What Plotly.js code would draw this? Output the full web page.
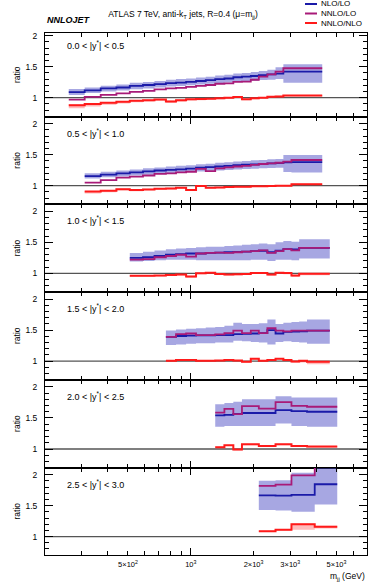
<!DOCTYPE html>
<html>
<head>
<meta charset="utf-8">
<script src="https://cdn.plot.ly/plotly-3.0.1.min.js"></script>
<style>
  body { margin: 0; background: #fff; }
  #chart { width: 374px; height: 585px; }
</style>
</head>
<body>
<div id="chart"></div>
<script>
// bin edges (GeV) and ratios per |y*| slice
const edges1 = [260, 310, 370, 440, 510, 590, 670, 760, 850, 950, 1060, 1180, 1310, 1450, 1600, 1760, 1940, 2120, 2330, 2550, 2780, 4270];
const nlo1 = [1.09, 1.12, 1.15, 1.165, 1.19, 1.205, 1.22, 1.235, 1.245, 1.255, 1.27, 1.285, 1.30, 1.31, 1.33, 1.34, 1.35, 1.365, 1.375, 1.39, 1.42];
const nnlo1 = [0.97, 1.015, 1.045, 1.07, 1.095, 1.11, 1.135, 1.15, 1.16, 1.175, 1.19, 1.205, 1.225, 1.23, 1.255, 1.26, 1.29, 1.34, 1.375, 1.42, 1.475];
const nloLo1 = [1.045, 1.075, 1.10, 1.115, 1.135, 1.15, 1.165, 1.18, 1.19, 1.20, 1.215, 1.225, 1.235, 1.245, 1.26, 1.265, 1.275, 1.285, 1.29, 1.30, 1.24];
const nloHi1 = [1.14, 1.165, 1.195, 1.215, 1.24, 1.255, 1.27, 1.29, 1.30, 1.31, 1.325, 1.34, 1.36, 1.37, 1.39, 1.40, 1.415, 1.43, 1.45, 1.49, 1.54];
const red1 = [0.88, 0.90, 0.92, 0.935, 0.95, 0.96, 0.97, 0.94, 0.96, 0.975, 0.98, 0.985, 0.99, 1.0, 1.01, 0.975, 0.99, 1.0, 1.015, 1.02, 1.035];
const redLo1 = [0.83, 0.86, 0.885, 0.905, 0.925, 0.94, 0.95, 0.92, 0.94, 0.955, 0.96, 0.97, 0.975, 0.985, 0.995, 0.96, 0.975, 0.99, 1.0, 1.005, 1.02];
const redHi1 = [0.895, 0.91, 0.93, 0.945, 0.96, 0.97, 0.98, 0.955, 0.97, 0.985, 0.99, 0.995, 1.0, 1.01, 1.02, 0.985, 1.0, 1.01, 1.025, 1.03, 1.045];

const edges2 = [310, 370, 440, 510, 590, 670, 760, 850, 950, 1060, 1180, 1310, 1450, 1600, 1760, 1940, 2120, 2330, 2550, 2780, 3040, 4270];
const nlo2 = [1.155, 1.18, 1.20, 1.215, 1.23, 1.245, 1.255, 1.265, 1.275, 1.29, 1.30, 1.31, 1.32, 1.33, 1.34, 1.345, 1.35, 1.36, 1.365, 1.375, 1.38];
const nnlo2 = [1.05, 1.09, 1.13, 1.145, 1.165, 1.19, 1.20, 1.215, 1.225, 1.27, 1.235, 1.28, 1.295, 1.31, 1.32, 1.335, 1.35, 1.36, 1.37, 1.39, 1.415];
const nloLo2 = [1.115, 1.135, 1.15, 1.165, 1.175, 1.19, 1.20, 1.21, 1.22, 1.23, 1.24, 1.245, 1.255, 1.26, 1.27, 1.275, 1.28, 1.285, 1.29, 1.22, 1.215];
const nloHi2 = [1.20, 1.225, 1.245, 1.26, 1.28, 1.295, 1.31, 1.32, 1.33, 1.345, 1.355, 1.37, 1.38, 1.39, 1.40, 1.41, 1.415, 1.425, 1.43, 1.495, 1.495];
const red2 = [0.905, 0.92, 0.945, 0.93, 0.94, 0.95, 0.957, 0.967, 0.93, 0.995, 0.967, 0.972, 0.978, 0.984, 0.984, 0.99, 0.99, 0.995, 1.0, 1.0, 1.025];
const redLo2 = [0.875, 0.895, 0.925, 0.91, 0.925, 0.935, 0.94, 0.95, 0.915, 0.98, 0.955, 0.96, 0.965, 0.97, 0.972, 0.978, 0.98, 0.985, 0.99, 0.99, 1.015];
const redHi2 = [0.915, 0.93, 0.955, 0.94, 0.95, 0.96, 0.967, 0.977, 0.94, 1.005, 0.977, 0.982, 0.988, 0.994, 0.994, 1.0, 1.0, 1.005, 1.01, 1.01, 1.035];

const edges3 = [510, 590, 670, 760, 850, 950, 1060, 1180, 1310, 1450, 1600, 1760, 1940, 2120, 2330, 2550, 2780, 3040, 3310, 4640];
const nlo3 = [1.25, 1.26, 1.28, 1.30, 1.31, 1.32, 1.32, 1.33, 1.335, 1.34, 1.345, 1.35, 1.36, 1.365, 1.34, 1.365, 1.39, 1.385, 1.41];
const nnlo3 = [1.22, 1.23, 1.26, 1.28, 1.30, 1.27, 1.32, 1.33, 1.335, 1.33, 1.34, 1.35, 1.36, 1.37, 1.33, 1.36, 1.39, 1.37, 1.41];
const nloLo3 = [1.19, 1.20, 1.21, 1.22, 1.22, 1.22, 1.21, 1.21, 1.21, 1.21, 1.21, 1.21, 1.22, 1.22, 1.20, 1.22, 1.22, 1.21, 1.24];
const nloHi3 = [1.33, 1.35, 1.37, 1.39, 1.40, 1.41, 1.42, 1.43, 1.43, 1.44, 1.45, 1.46, 1.47, 1.48, 1.47, 1.50, 1.52, 1.51, 1.55];
const red3 = [0.96, 0.96, 0.965, 0.975, 0.98, 0.95, 1.0, 1.01, 0.99, 0.98, 0.985, 0.99, 1.005, 1.005, 0.98, 1.01, 1.005, 0.965, 0.995];
const redLo3 = [0.945, 0.945, 0.95, 0.96, 0.965, 0.93, 0.985, 0.995, 0.975, 0.965, 0.97, 0.975, 0.99, 0.99, 0.96, 0.99, 0.985, 0.94, 0.97];
const redHi3 = [0.97, 0.97, 0.975, 0.985, 0.99, 0.96, 1.01, 1.02, 1.0, 0.99, 0.995, 1.0, 1.015, 1.015, 0.99, 1.02, 1.015, 0.975, 1.005];

const edges4 = [760, 850, 950, 1060, 1180, 1310, 1450, 1600, 1760, 1940, 2120, 2330, 2550, 2780, 3040, 3310, 3610, 4640];
const nlo4 = [1.39, 1.405, 1.41, 1.415, 1.415, 1.42, 1.42, 1.435, 1.44, 1.445, 1.45, 1.50, 1.445, 1.47, 1.475, 1.48, 1.49];
const nnlo4 = [1.39, 1.435, 1.445, 1.42, 1.42, 1.43, 1.45, 1.49, 1.45, 1.49, 1.45, 1.53, 1.49, 1.48, 1.49, 1.49, 1.49];
const nloLo4 = [1.26, 1.27, 1.28, 1.29, 1.29, 1.30, 1.30, 1.33, 1.32, 1.31, 1.30, 1.27, 1.31, 1.32, 1.31, 1.30, 1.28];
const nloHi4 = [1.495, 1.51, 1.52, 1.53, 1.54, 1.55, 1.57, 1.62, 1.60, 1.60, 1.61, 1.67, 1.60, 1.62, 1.63, 1.64, 1.67];
const red4 = [1.005, 1.02, 1.02, 1.005, 1.005, 1.01, 1.02, 1.01, 0.99, 1.04, 1.005, 1.02, 1.04, 1.02, 0.995, 1.005, 0.99];
const redLo4 = [0.99, 1.005, 1.005, 0.99, 0.99, 0.995, 1.005, 0.995, 0.975, 1.025, 0.99, 1.005, 1.025, 1.0, 0.975, 0.98, 0.95];
const redHi4 = [1.015, 1.03, 1.03, 1.015, 1.015, 1.02, 1.03, 1.02, 1.0, 1.05, 1.015, 1.03, 1.05, 1.03, 1.005, 1.015, 1.0];

const edges5 = [1310, 1450, 1600, 1760, 2120, 2550, 3040, 3610, 5040];
const nlo5 = [1.54, 1.55, 1.565, 1.58, 1.58, 1.625, 1.61, 1.60];
const nnlo5 = [1.585, 1.645, 1.56, 1.69, 1.65, 1.755, 1.695, 1.68];
const nloLo5 = [1.36, 1.37, 1.37, 1.37, 1.37, 1.41, 1.37, 1.36];
const nloHi5 = [1.72, 1.74, 1.76, 1.80, 1.80, 1.85, 1.83, 1.83];
const red5 = [1.03, 1.06, 0.99, 1.075, 1.05, 1.075, 1.05, 1.04];
const redLo5 = [1.02, 1.05, 0.975, 1.06, 1.035, 1.06, 1.035, 1.02];
const redHi5 = [1.04, 1.07, 1.0, 1.085, 1.06, 1.085, 1.06, 1.05];

const edges6 = [2120, 2550, 3040, 3930, 5040];
const nlo6 = [1.665, 1.66, 1.675, 1.845];
const nnlo6 = [1.82, 1.84, 1.99, 2.2];
const nloLo6 = [1.43, 1.42, 1.40, 1.52];
const nloHi6 = [1.90, 1.91, 2.03, 2.2];
const red6 = [1.085, 1.11, 1.20, 1.16];
const redLo6 = [1.075, 1.095, 1.11, 1.13];
const redHi6 = [1.095, 1.12, 1.21, 1.175];

const sliceLabels = ['0.0 < |y<sup>*</sup>| < 0.5', '0.5 < |y<sup>*</sup>| < 1.0', '1.0 < |y<sup>*</sup>| < 1.5',
                     '1.5 < |y<sup>*</sup>| < 2.0', '2.0 < |y<sup>*</sup>| < 2.5', '2.5 < |y<sup>*</sup>| < 3.0'];
const seriesNames = ['NLO/LO', 'NNLO/LO', 'NNLO/NLO'];
const xTickVals = [500, 1000, 2000, 3000, 5000];
const xTickText = ['5×10<sup>2</sup>', '10<sup>3</sup>', '2×10<sup>3</sup>', '3×10<sup>3</sup>', '5×10<sup>3</sup>'];
const xMinorVals = [300, 400, 500, 600, 700, 800, 900, 2000, 3000, 4000, 5000, 6000];
const yTickVals = [1, 1.5, 2];
const yMinorVals = [0.7, 0.8, 0.9, 1.1, 1.2, 1.3, 1.4, 1.6, 1.7, 1.8, 1.9, 2.1];

const panels = [
    { edges: edges1, nlo: nlo1, nnlo: nnlo1, lo: nloLo1, hi: nloHi1, red: red1, rlo: redLo1, rhi: redHi1 },
    { edges: edges2, nlo: nlo2, nnlo: nnlo2, lo: nloLo2, hi: nloHi2, red: red2, rlo: redLo2, rhi: redHi2 },
    { edges: edges3, nlo: nlo3, nnlo: nnlo3, lo: nloLo3, hi: nloHi3, red: red3, rlo: redLo3, rhi: redHi3 },
    { edges: edges4, nlo: nlo4, nnlo: nnlo4, lo: nloLo4, hi: nloHi4, red: red4, rlo: redLo4, rhi: redHi4 },
    { edges: edges5, nlo: nlo5, nnlo: nnlo5, lo: nloLo5, hi: nloHi5, red: red5, rlo: redLo5, rhi: redHi5 },
    { edges: edges6, nlo: nlo6, nnlo: nnlo6, lo: nloLo6, hi: nloHi6, red: red6, rlo: redLo6, rhi: redHi6 }
];

const FONT = 'Liberation Sans, Arial, sans-serif';
const colBlue = '#1a1aa8', colMag = '#a81a78', colRed = '#ff1a1a';
const bandBlue = 'rgba(60,60,190,0.45)', bandRed = 'rgba(255,60,60,0.35)';

// pixel layout of the canvas (height 585, plot area 33..555)
const T = 33, B = 555;
const panelPx = [33, 116.5, 204.2, 291.8, 379.7, 467.5, 555];
const toPaperY = py => (B - py) / (B - T);
const toPaperX = px => (px - 45) / 322;
const xRange = [Math.log10(200), Math.log10(7000)];

// histogram helper: repeat last value so hv step closes the last bin
const step = v => v.concat([v[v.length - 1]]);

const traces = [];
const shapes = [];
const annotations = [];
const layout = {
    width: 374, height: 585,
    margin: { l: 45, r: 7, t: T, b: 585 - B },
    paper_bgcolor: '#fff', plot_bgcolor: '#fff',
    font: { family: FONT, color: '#000', size: 8.5 },
    showlegend: false,
    title: {
        text: 'ATLAS 7 TeV, anti-k<sub>T</sub> jets, R=0.4 (μ=m<sub>jj</sub>)',
        x: 183 / 374, xanchor: 'center', y: 1 - 14 / 585, yanchor: 'middle',
        font: { family: FONT, size: 8.5, color: '#000' }
    }
};

panels.forEach((p, i) => {
    const n = i + 1;
    const xa = 'x' + n, ya = 'y' + n;
    const base = { x: p.edges, xaxis: xa, yaxis: ya, mode: 'lines', hoverinfo: 'skip', showlegend: false };

    // NLO/LO uncertainty band
    traces.push(Object.assign({}, base, { y: step(p.lo), line: { shape: 'hv', width: 0 } }));
    traces.push(Object.assign({}, base, { y: step(p.hi), line: { shape: 'hv', width: 0 }, fill: 'tonexty', fillcolor: bandBlue }));
    // NNLO/NLO band
    traces.push(Object.assign({}, base, { y: step(p.rlo), line: { shape: 'hv', width: 0 } }));
    traces.push(Object.assign({}, base, { y: step(p.rhi), line: { shape: 'hv', width: 0 }, fill: 'tonexty', fillcolor: bandRed }));
    // central lines
    traces.push(Object.assign({}, base, { y: step(p.nlo), name: seriesNames[0], line: { shape: 'hv', width: 1.8, color: colBlue } }));
    traces.push(Object.assign({}, base, { y: step(p.nnlo), name: seriesNames[1], line: { shape: 'hv', width: 1.8, color: colMag } }));
    traces.push(Object.assign({}, base, { y: step(p.red), name: seriesNames[2], line: { shape: 'hv', width: 2, color: colRed } }));

    const last = n === 6;
    layout['xaxis' + n] = {
        domain: [0, 1], anchor: ya, type: 'log', range: xRange,
        showline: true, linecolor: '#000', linewidth: 1, mirror: 'ticks',
        ticks: 'inside', tickcolor: '#000', tickwidth: 1,
        tickmode: 'array',
        tickvals: last ? xTickVals : [1000],
        ticktext: last ? xTickText : ['10<sup>3</sup>'],
        ticklen: last ? 4 : 7,
        showticklabels: last,
        tickfont: { family: FONT, size: 7.5 },
        ticklabelstandoff: 2,
        minor: { tickmode: 'array', tickvals: xMinorVals, ticks: 'inside', ticklen: 4, tickcolor: '#000', showgrid: false },
        showgrid: false, zeroline: false
    };
    layout['yaxis' + n] = {
        domain: [toPaperY(panelPx[i + 1]), toPaperY(panelPx[i])],
        anchor: xa,
        range: i === 0 ? [0.697, 2.044] : [0.702, 2.116],
        showline: true, linecolor: '#000', linewidth: 1, mirror: 'ticks',
        ticks: 'inside', ticklen: 8, tickcolor: '#000', tickwidth: 1,
        tickmode: 'array', tickvals: yTickVals, ticktext: ['1', '1.5', '2'],
        minor: { tickmode: 'array', tickvals: yMinorVals, ticks: 'inside', ticklen: 4, tickcolor: '#000', showgrid: false },
        tickfont: { family: FONT, size: 8.5 },
        ticklabelstandoff: 5,
        title: { text: 'ratio', font: { family: FONT, size: 8.5 }, standoff: 3 },
        showgrid: false, zeroline: false
    };

    // reference line at ratio = 1
    shapes.push({
        type: 'line', xref: xa + ' domain', x0: 0, x1: 1, yref: ya, y0: 1, y1: 1,
        line: { color: '#555', width: 1.3 }, layer: 'below'
    });
    annotations.push({
        text: sliceLabels[i], xref: xa + ' domain', x: 0.062, xanchor: 'left',
        yref: ya, y: 1.855, yanchor: 'middle', showarrow: false,
        font: { family: FONT, size: 9 }
    });
});

// long tick at 10^3 on the bottom panel
layout.xaxis7 = {
    overlaying: 'x6', anchor: 'y6', type: 'log', range: xRange,
    showline: false, mirror: 'ticks', ticks: 'inside', ticklen: 7, tickcolor: '#000',
    tickmode: 'array', tickvals: [1000], showticklabels: false,
    showgrid: false, zeroline: false
};
traces.push({ x: [], y: [], xaxis: 'x7', yaxis: 'y6', mode: 'lines', showlegend: false, hoverinfo: 'skip' });

// hand-made legend, rows are tighter than plotly's own legend allows
const legendColors = [colBlue, colMag, colRed];
const legendRowsPx = [4, 13.5, 23];
seriesNames.forEach((name, k) => {
    const y = toPaperY(legendRowsPx[k]);
    shapes.push({
        type: 'line', xref: 'paper', yref: 'paper',
        x0: toPaperX(305), x1: toPaperX(317), y0: y, y1: y,
        line: { color: legendColors[k], width: 2 }
    });
    annotations.push({
        text: name, xref: 'paper', yref: 'paper', x: toPaperX(320), y: y,
        xanchor: 'left', yanchor: 'middle', showarrow: false, borderpad: 0,
        font: { family: FONT, size: 8 }
    });
});

annotations.push({
    text: '<b><i>NNLOJET</i></b>', xref: 'paper', yref: 'paper',
    x: 0, y: toPaperY(20), xanchor: 'left', yanchor: 'middle', showarrow: false,
    font: { family: FONT, size: 9 }
});
annotations.push({
    text: 'm<sub>jj</sub> (GeV)', xref: 'paper', yref: 'paper',
    x: 1, y: toPaperY(576), xanchor: 'right', yanchor: 'middle', showarrow: false,
    font: { family: FONT, size: 8.5 }
});

layout.shapes = shapes;
layout.annotations = annotations;

Plotly.newPlot('chart', traces, layout, { displayModeBar: false, staticPlot: true });
</script>
</body>
</html>
